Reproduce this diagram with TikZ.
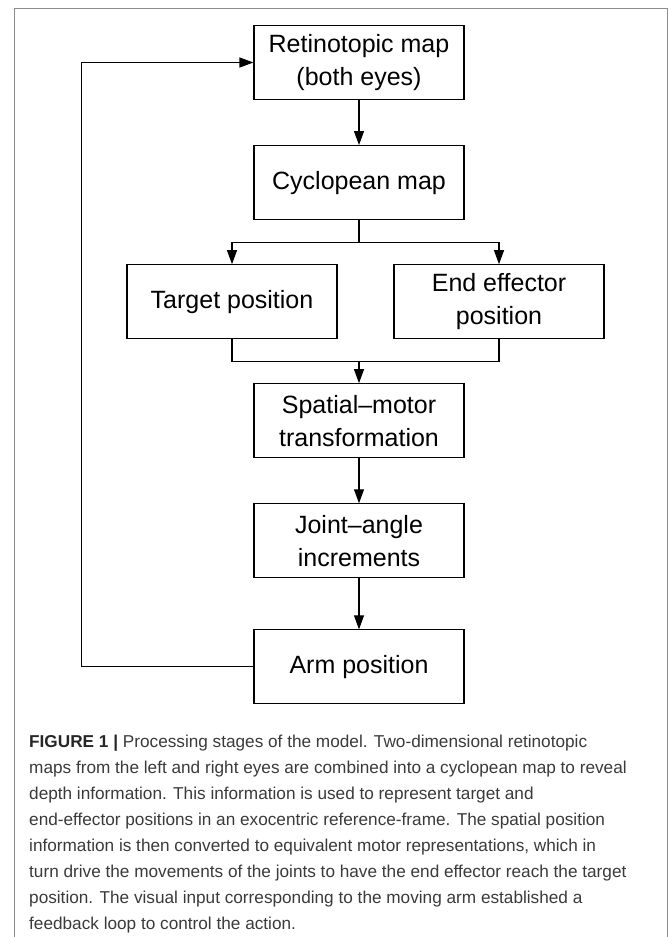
\documentclass[tikz,border=0pt]{standalone}
\usepackage{fontspec}
\setmainfont{Liberation Sans}
\usetikzlibrary{positioning,arrows.meta}
\definecolor{framegray}{HTML}{8C8C8C}
\definecolor{captext}{HTML}{3A3A3A}

\begin{document}
\begin{tikzpicture}[
    x=1pt, y=-1pt,
    node distance=45pt,
    stage/.style={draw, line width=1.1pt, minimum width=210pt, minimum height=74pt, inner sep=0pt, align=center, font=\fontsize{25}{33}\selectfont},
    link/.style={line width=1.1pt},
    arrow/.style={-{Triangle[length=14pt, width=10pt]}, line width=1.1pt}
]
\useasboundingbox (0,0) rectangle (669,937);
\draw[framegray, line width=0.9pt] (14,937) |- (667,8) -- (667,937);

\node[stage] (retina) at (359,62.5) {Retinotopic map\\(both eyes)};
\node[stage, below=of retina] (cyclo) {Cyclopean map};
\node[stage, below=44pt of cyclo, xshift=-127pt] (target) {Target position};
\node[stage, below=44pt of cyclo, xshift=140pt] (effector) {End effector\\position};
\node[stage, below=163pt of cyclo] (spatial) {Spatial--motor\\transformation};
\node[stage, below=of spatial] (joint) {Joint--angle\\increments};
\node[stage, below=51pt of joint] (arm) {Arm position};

\draw[arrow] (retina) -- (cyclo);
\draw[link] (cyclo.south) -- ++(0,22) coordinate (split);
\draw[arrow] (split) -| (target.north);
\draw[arrow] (split) -| (effector.north);
\draw[link] (target.south) -- ++(0,22) coordinate (merge) -| (effector.south);
\draw[arrow] (merge -| spatial.north) -- (spatial.north);
\draw[arrow] (spatial) -- (joint);
\draw[arrow] (joint) -- (arm);
% feedback loop back to the eyes
\draw[arrow] (arm.west) -- ++(-172,0) |- (retina.west);

\node[anchor=north west, align=left, inner sep=0pt, text=captext, font=\fontsize{17.2}{26}\selectfont] (caption) at (29,735)
  {\textbf{\color{black!85}FIGURE 1 |} Processing stages of the model. Two-dimensional retinotopic\\
   maps from the left and right eyes are combined into a cyclopean map to reveal\\
   depth information. This information is used to represent target and\\
   end-effector positions in an exocentric reference-frame. The spatial position\\
   information is then converted to equivalent motor representations, which in\\
   turn drive the movements of the joints to have the end effector reach the target\\
   position. The visual input corresponding to the moving arm established a\\
   feedback loop to control the action.};
\end{tikzpicture}
\end{document}
